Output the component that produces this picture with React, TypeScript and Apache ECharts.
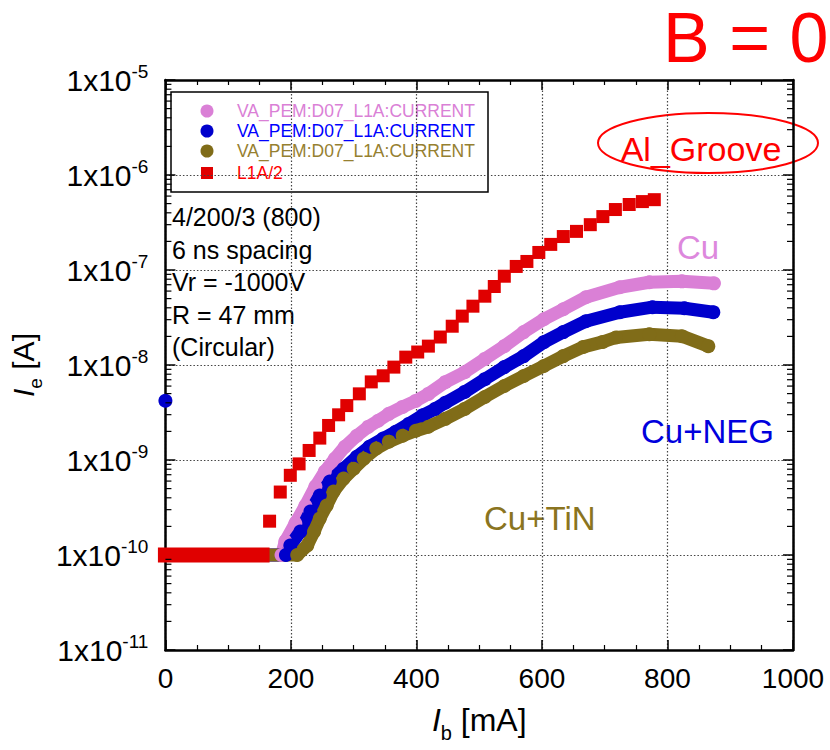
import React, { useEffect, useRef } from "react";
import * as echarts from "echarts";

// ---- data (I_b in mA, I_e in A) ----
const pinkCu: [number, number][] = [
  [0, 1e-10], [185, 1e-10], [191, 1.39e-10], [207, 2.15e-10], [223, 3.3e-10], [239, 5.25e-10],
  [254, 7.55e-10], [270, 1.03e-9], [286, 1.38e-9], [305, 1.8e-9], [323, 2.23e-9], [339, 2.59e-9],
  [356, 3.06e-9], [378, 3.62e-9], [399, 4.19e-9], [419, 4.96e-9], [446, 6.6e-9], [477, 8.4e-9],
  [509, 1.16e-8], [540, 1.58e-8], [571, 2.22e-8], [603, 3.03e-8], [634, 3.86e-8], [670, 5.16e-8],
  [724, 6.58e-8], [771, 7.43e-8], [823, 7.6e-8], [874, 7.24e-8],
];
const blueNEG: [number, number][] = [
  [0, 1e-10], [192, 1e-10], [199, 1.26e-10], [215, 1.77e-10], [231, 2.87e-10], [246, 4.23e-10],
  [262, 5.93e-10], [284, 8.1e-10], [305, 1.08e-9], [325, 1.38e-9], [347, 1.68e-9], [367, 1.98e-9],
  [388, 2.4e-9], [410, 2.95e-9], [430, 3.45e-9], [446, 4.0e-9], [477, 5.21e-9], [509, 7.1e-9],
  [540, 9.5e-9], [571, 1.24e-8], [603, 1.74e-8], [634, 2.22e-8], [670, 2.89e-8], [724, 3.59e-8],
  [776, 4.06e-8], [827, 3.96e-8], [873, 3.59e-8],
];
const blueFirst: [number, number][] = [[0, 4.2e-9]];
const oliveTiN: [number, number][] = [
  [0, 1e-10], [210, 1e-10], [226, 1.26e-10], [237, 1.77e-10], [246, 2.42e-10], [257, 3.32e-10],
  [268, 4.66e-10], [284, 6.37e-10], [300, 8.1e-10], [316, 1.03e-9], [336, 1.32e-9], [356, 1.56e-9],
  [378, 1.8e-9], [399, 2.03e-9], [419, 2.24e-9], [446, 2.71e-9], [477, 3.45e-9], [509, 4.61e-9],
  [540, 6.02e-9], [571, 7.67e-9], [603, 9.76e-9], [634, 1.24e-8], [666, 1.55e-8], [697, 1.75e-8],
  [718, 1.95e-8], [771, 2.11e-8], [823, 2.01e-8], [865, 1.58e-8],
];
const redFloor: [number, number][] = [[0, 1e-10], [154, 1e-10]];
const redL1A: [number, number][] = [
  [166, 2.27e-10], [183, 4.6e-10], [199, 6.9e-10], [213, 9.1e-10], [229, 1.26e-9], [246, 1.7e-9],
  [260, 2.31e-9], [276, 2.99e-9], [289, 3.74e-9], [309, 4.97e-9], [328, 6.64e-9], [347, 7.7e-9],
  [364, 9.5e-9], [383, 1.21e-8], [402, 1.37e-8], [419, 1.58e-8], [438, 1.97e-8], [457, 2.56e-8],
  [473, 3.27e-8], [490, 4.16e-8], [509, 5.3e-8], [524, 6.7e-8], [540, 8.6e-8], [559, 1.09e-7],
  [576, 1.23e-7], [595, 1.53e-7], [614, 1.86e-7], [634, 2.25e-7], [655, 2.55e-7], [677, 3.0e-7],
  [697, 3.65e-7], [717, 4.33e-7], [739, 4.89e-7], [760, 5.25e-7], [779, 5.5e-7],
];

const legendNames = [
  "VA_PEM:D07_L1A:CURRENT",
  "VA_PEM:D07_L1A:CURRENT",
  "VA_PEM:D07_L1A:CURRENT",
  "L1A/2",
];
const infoLines = ["4/200/3 (800)", "6 ns spacing", "Vr = -1000V", "R = 47 mm", "(Circular)"];
const yDecades = [-11, -10, -9, -8, -7, -6, -5];
const yMinorTicks: number[] = [];
for (let i = 0; i < yDecades.length - 1; i++) {
  for (let k = 2; k <= 9; k++) yMinorTicks.push(k * Math.pow(10, yDecades[i]));
}

const PINK = "#DA80D6";
const BLUE = "#0000CC";
const OLIVE = "#806C18";
const RED = "#E00000";
const FONT = "Liberation Sans";

export default function App() {
  const ref = useRef<HTMLDivElement>(null);
  useEffect(() => {
    if (!ref.current) return;
    const chart = echarts.init(ref.current, null, { renderer: "svg" });
    const gridLeft = 156, gridTop = 80, gridW = 637, gridH = 570;

    const lineSeries = (name: string, data: [number, number][], color: string) => ({
      name,
      type: "line",
      data,
      symbol: "circle",
      symbolSize: 14,
      showSymbol: true,
      showAllSymbol: true,
      clip: false,
      z: 2,
      lineStyle: { color, width: 13, cap: "round", join: "round", opacity: 1 },
      itemStyle: { color, opacity: 1 },
      silent: true,
    });

    const legendRows = [
      { color: PINK, text: PINK, sym: "circle" },
      { color: BLUE, text: "#0000FF", sym: "circle" },
      { color: OLIVE, text: "#968030", sym: "circle" },
      { color: RED, text: "#FF0000", sym: "rect" },
    ];
    const legendY = [111, 131, 151, 173];
    const legendEls: any[] = [
      {
        type: "rect",
        shape: { x: 171, y: 92, width: 317, height: 100 },
        style: { fill: "#fff", stroke: "#000", lineWidth: 1.5 },
      },
    ];
    legendRows.forEach((r, i) => {
      if (r.sym === "circle") {
        legendEls.push({ type: "circle", shape: { cx: 207, cy: legendY[i], r: 6.5 }, style: { fill: r.color } });
      } else {
        legendEls.push({ type: "rect", shape: { x: 201, y: legendY[i] - 6, width: 12, height: 12 }, style: { fill: r.color } });
      }
      legendEls.push({
        type: "text",
        x: 237,
        y: legendY[i],
        style: { text: legendNames[i], fill: r.text, fontSize: 17.5, fontFamily: FONT, textAlign: "left", textVerticalAlign: "middle" },
      });
    });

    const infoEls = infoLines.map((t, i) => ({
      type: "text",
      x: 172,
      y: 217 + i * 32.5,
      style: { text: t, fill: "#000", fontSize: 25, fontFamily: FONT, textAlign: "left", textVerticalAlign: "middle" },
    }));

    const axisNameRich = (size: number, sub: number) => ({
      i: { fontSize: size, fontStyle: "italic", fontFamily: FONT, color: "#000" },
      s: { fontSize: sub, fontFamily: FONT, color: "#000", verticalAlign: "bottom", lineHeight: size + 14 },
      n: { fontSize: size, fontFamily: FONT, color: "#000" },
    });

    const option: any = {
      animation: false,
      backgroundColor: "#fff",
      grid: { left: gridLeft, top: gridTop, width: gridW, height: gridH, containLabel: false },
      xAxis: [
        {
          type: "value",
          min: 0,
          max: 1000,
          interval: 200,
          position: "bottom",
          name: "{i|I}{s|b}{n| [mA]}",
          nameLocation: "middle",
          nameGap: 47,
          nameTextStyle: { fontFamily: FONT, color: "#000", rich: axisNameRich(32, 20) },
          axisLine: { show: true, onZero: false, lineStyle: { color: "#000", width: 2.5 } },
          axisTick: { show: true, inside: true, length: 10, lineStyle: { color: "#000", width: 1.5 } },
          minorTick: { show: true, splitNumber: 4, length: 5, lineStyle: { color: "#000", width: 1.2 } },
          axisLabel: { fontSize: 28, fontFamily: FONT, color: "#000", margin: 14, formatter: (v: number) => String(v) },
          splitLine: { show: true, lineStyle: { color: "#444", type: [1.5, 2], width: 1.2 } },
        },
        {
          type: "value",
          min: 0,
          max: 1000,
          interval: 200,
          position: "top",
          axisLine: { show: true, onZero: false, lineStyle: { color: "#000", width: 2.5 } },
          axisTick: { show: true, inside: true, length: 10, lineStyle: { color: "#000", width: 1.5 } },
          minorTick: { show: true, splitNumber: 4, length: 5, lineStyle: { color: "#000", width: 1.2 } },
          axisLabel: { show: false },
          splitLine: { show: false },
        },
      ],
      yAxis: [
        {
          type: "log",
          logBase: 10,
          min: 1e-11,
          max: 1e-5,
          splitNumber: 6,
          position: "left",
          name: "{i|I}{s|e}{n| [A]}",
          nameLocation: "middle",
          nameGap: 102,
          nameTextStyle: { fontFamily: FONT, color: "#000", rich: axisNameRich(30, 19) },
          axisLine: { show: true, onZero: false, lineStyle: { color: "#000", width: 2.5 } },
          axisTick: { show: true, inside: true, length: 10, lineStyle: { color: "#000", width: 1.5 } },
          axisLabel: {
            margin: 17,
            formatter: (v: number) => `{b|1x10}{s|${Math.round(Math.log10(v))}}`,
            rich: {
              b: { fontSize: 30, fontFamily: FONT, color: "#000", lineHeight: 36 },
              s: { fontSize: 19, fontFamily: FONT, color: "#000", verticalAlign: "top", lineHeight: 20 },
            },
          },
          splitLine: { show: true, lineStyle: { color: "#444", type: [1.5, 2], width: 1.2 } },
        },
        {
          type: "log",
          logBase: 10,
          min: 1e-11,
          max: 1e-5,
          splitNumber: 6,
          position: "right",
          axisLine: { show: true, onZero: false, lineStyle: { color: "#000", width: 2.5 } },
          axisTick: { show: true, inside: true, length: 10, lineStyle: { color: "#000", width: 1.5 } },
          axisLabel: { show: false },
          splitLine: { show: false },
        },
      ],
      series: [
        lineSeries("Cu", pinkCu, PINK),
        lineSeries("Cu+NEG", blueNEG, BLUE),
        {
          name: "Cu+NEG first",
          type: "scatter",
          data: blueFirst,
          symbol: "circle",
          symbolSize: 14,
          clip: false,
          z: 2,
          itemStyle: { color: BLUE, opacity: 1 },
          silent: true,
        },
        lineSeries("Cu+TiN", oliveTiN, OLIVE),
        {
          name: "L1A/2 floor",
          type: "line",
          data: redFloor,
          showSymbol: false,
          clip: false,
          z: 3,
          lineStyle: { color: RED, width: 15, cap: "square", opacity: 1 },
          silent: true,
        },
        {
          name: "L1A/2",
          type: "scatter",
          data: redL1A,
          symbol: "rect",
          symbolSize: 13,
          clip: false,
          z: 3,
          itemStyle: { color: RED, opacity: 1 },
          silent: true,
        },
        {
          name: "minor ticks",
          type: "custom",
          silent: true,
          clip: false,
          z: 4,
          data: yMinorTicks.map((v) => [0, v]),
          renderItem: (params: any, api: any) => {
            const p = api.coord([0, api.value(1)]);
            const cs = params.coordSys;
            return {
              type: "group",
              children: [
                { type: "line", shape: { x1: cs.x, y1: p[1], x2: cs.x + 6, y2: p[1] }, style: { stroke: "#000", lineWidth: 1.2 } },
                { type: "line", shape: { x1: cs.x + cs.width - 6, y1: p[1], x2: cs.x + cs.width, y2: p[1] }, style: { stroke: "#000", lineWidth: 1.2 } },
              ],
            };
          },
        },
      ],
      graphic: [
        ...legendEls,
        ...infoEls,
        {
          type: "text",
          x: 663,
          y: 38,
          style: { text: "B = 0", fill: "#FF0000", fontSize: 70, fontFamily: FONT, textAlign: "left", textVerticalAlign: "middle" },
        },
        {
          type: "ellipse",
          shape: { cx: 708, cy: 143, rx: 110, ry: 30 },
          style: { fill: "none", stroke: "#FF0000", lineWidth: 2 },
        },
        {
          type: "text",
          x: 701,
          y: 149,
          style: { text: "Al_Groove", fill: "#FF0000", fontSize: 34, fontFamily: FONT, textAlign: "center", textVerticalAlign: "middle" },
        },
        {
          type: "text",
          x: 677,
          y: 247,
          style: { text: "Cu", fill: "#DD88DD", fontSize: 33, fontFamily: FONT, textAlign: "left", textVerticalAlign: "middle" },
        },
        {
          type: "text",
          x: 641,
          y: 431,
          style: { text: "Cu+NEG", fill: "#0000DD", fontSize: 33, fontFamily: FONT, textAlign: "left", textVerticalAlign: "middle" },
        },
        {
          type: "text",
          x: 484,
          y: 518,
          style: { text: "Cu+TiN", fill: "#8A7420", fontSize: 33, fontFamily: FONT, textAlign: "left", textVerticalAlign: "middle" },
        },
      ],
    };
    chart.setOption(option);
    return () => chart.dispose();
  }, []);

  return (
    <div
      ref={ref}
      style={{ position: "absolute", left: 0, top: 0, width: 830, height: 750, background: "#fff" }}
    />
  );
}
